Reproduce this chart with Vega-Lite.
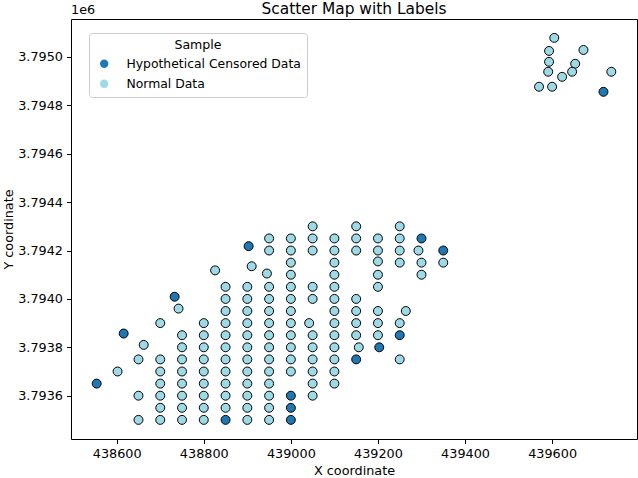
{
  "$schema": "https://vega.github.io/schema/vega-lite/v6.json",
  "width": 566,
  "height": 420,
  "autosize": {"type": "none"},
  "padding": {"left": 71, "top": 19, "right": 1, "bottom": 39},
  "background": "white",
  "config": {
    "font": "DejaVu Sans",
    "view": {"stroke": "black", "strokeWidth": 1},
    "axis": {
      "domain": false,
      "grid": false,
      "tickColor": "black",
      "tickSize": 4.5,
      "tickWidth": 1,
      "labelColor": "black",
      "labelFont": "DejaVu Sans",
      "labelFontSize": 12.8,
      "labelPadding": 4,
      "titleColor": "black",
      "titleFont": "DejaVu Sans",
      "titleFontSize": 12.8,
      "titleFontWeight": "normal"
    }
  },
  "title": {
    "text": "Scatter Map with Labels",
    "font": "DejaVu Sans",
    "fontSize": 15.4,
    "fontWeight": "normal",
    "color": "black",
    "anchor": "middle",
    "frame": "group",
    "offset": -13
  },
  "layer": [
    {
      "data": {
        "values": [
          {"x": 438650, "y": 3793500, "sample": "Normal Data"},
          {"x": 438650, "y": 3793600, "sample": "Normal Data"},
          {"x": 438650, "y": 3793750, "sample": "Normal Data"},
          {"x": 438700, "y": 3793500, "sample": "Normal Data"},
          {"x": 438700, "y": 3793550, "sample": "Normal Data"},
          {"x": 438700, "y": 3793600, "sample": "Normal Data"},
          {"x": 438700, "y": 3793650, "sample": "Normal Data"},
          {"x": 438700, "y": 3793700, "sample": "Normal Data"},
          {"x": 438700, "y": 3793750, "sample": "Normal Data"},
          {"x": 438700, "y": 3793900, "sample": "Normal Data"},
          {"x": 438750, "y": 3793500, "sample": "Normal Data"},
          {"x": 438750, "y": 3793550, "sample": "Normal Data"},
          {"x": 438750, "y": 3793600, "sample": "Normal Data"},
          {"x": 438750, "y": 3793650, "sample": "Normal Data"},
          {"x": 438750, "y": 3793700, "sample": "Normal Data"},
          {"x": 438750, "y": 3793750, "sample": "Normal Data"},
          {"x": 438750, "y": 3793800, "sample": "Normal Data"},
          {"x": 438750, "y": 3793850, "sample": "Normal Data"},
          {"x": 438800, "y": 3793500, "sample": "Normal Data"},
          {"x": 438800, "y": 3793550, "sample": "Normal Data"},
          {"x": 438800, "y": 3793600, "sample": "Normal Data"},
          {"x": 438800, "y": 3793650, "sample": "Normal Data"},
          {"x": 438800, "y": 3793700, "sample": "Normal Data"},
          {"x": 438800, "y": 3793750, "sample": "Normal Data"},
          {"x": 438800, "y": 3793800, "sample": "Normal Data"},
          {"x": 438800, "y": 3793850, "sample": "Normal Data"},
          {"x": 438800, "y": 3793900, "sample": "Normal Data"},
          {"x": 438850, "y": 3793500, "sample": "Hypothetical Censored Data"},
          {"x": 438850, "y": 3793550, "sample": "Normal Data"},
          {"x": 438850, "y": 3793600, "sample": "Normal Data"},
          {"x": 438850, "y": 3793650, "sample": "Normal Data"},
          {"x": 438850, "y": 3793700, "sample": "Normal Data"},
          {"x": 438850, "y": 3793750, "sample": "Normal Data"},
          {"x": 438850, "y": 3793800, "sample": "Normal Data"},
          {"x": 438850, "y": 3793850, "sample": "Normal Data"},
          {"x": 438850, "y": 3793900, "sample": "Normal Data"},
          {"x": 438850, "y": 3793950, "sample": "Normal Data"},
          {"x": 438850, "y": 3794000, "sample": "Normal Data"},
          {"x": 438850, "y": 3794050, "sample": "Normal Data"},
          {"x": 438900, "y": 3793500, "sample": "Normal Data"},
          {"x": 438900, "y": 3793550, "sample": "Normal Data"},
          {"x": 438900, "y": 3793600, "sample": "Normal Data"},
          {"x": 438900, "y": 3793650, "sample": "Normal Data"},
          {"x": 438900, "y": 3793700, "sample": "Normal Data"},
          {"x": 438900, "y": 3793750, "sample": "Normal Data"},
          {"x": 438900, "y": 3793800, "sample": "Normal Data"},
          {"x": 438900, "y": 3793850, "sample": "Normal Data"},
          {"x": 438900, "y": 3793900, "sample": "Normal Data"},
          {"x": 438900, "y": 3793950, "sample": "Normal Data"},
          {"x": 438900, "y": 3794000, "sample": "Normal Data"},
          {"x": 438900, "y": 3794050, "sample": "Normal Data"},
          {"x": 438950, "y": 3793500, "sample": "Normal Data"},
          {"x": 438950, "y": 3793550, "sample": "Normal Data"},
          {"x": 438950, "y": 3793600, "sample": "Normal Data"},
          {"x": 438950, "y": 3793650, "sample": "Normal Data"},
          {"x": 438950, "y": 3793700, "sample": "Normal Data"},
          {"x": 438950, "y": 3793750, "sample": "Normal Data"},
          {"x": 438950, "y": 3793800, "sample": "Normal Data"},
          {"x": 438950, "y": 3793850, "sample": "Normal Data"},
          {"x": 438950, "y": 3793900, "sample": "Normal Data"},
          {"x": 438950, "y": 3793950, "sample": "Normal Data"},
          {"x": 438950, "y": 3794000, "sample": "Normal Data"},
          {"x": 438950, "y": 3794050, "sample": "Normal Data"},
          {"x": 438945, "y": 3794105, "sample": "Normal Data"},
          {"x": 438950, "y": 3794200, "sample": "Normal Data"},
          {"x": 438950, "y": 3794250, "sample": "Normal Data"},
          {"x": 439000, "y": 3793500, "sample": "Hypothetical Censored Data"},
          {"x": 439000, "y": 3793550, "sample": "Hypothetical Censored Data"},
          {"x": 439000, "y": 3793600, "sample": "Hypothetical Censored Data"},
          {"x": 439000, "y": 3793700, "sample": "Normal Data"},
          {"x": 439000, "y": 3793750, "sample": "Normal Data"},
          {"x": 439000, "y": 3793800, "sample": "Normal Data"},
          {"x": 439000, "y": 3793850, "sample": "Normal Data"},
          {"x": 439000, "y": 3793900, "sample": "Normal Data"},
          {"x": 439000, "y": 3793950, "sample": "Normal Data"},
          {"x": 439000, "y": 3794000, "sample": "Normal Data"},
          {"x": 439000, "y": 3794050, "sample": "Normal Data"},
          {"x": 439000, "y": 3794100, "sample": "Normal Data"},
          {"x": 439000, "y": 3794150, "sample": "Normal Data"},
          {"x": 439000, "y": 3794200, "sample": "Normal Data"},
          {"x": 439000, "y": 3794250, "sample": "Normal Data"},
          {"x": 439050, "y": 3793600, "sample": "Normal Data"},
          {"x": 439050, "y": 3793650, "sample": "Normal Data"},
          {"x": 439050, "y": 3793700, "sample": "Normal Data"},
          {"x": 439050, "y": 3793750, "sample": "Normal Data"},
          {"x": 439050, "y": 3793800, "sample": "Normal Data"},
          {"x": 439050, "y": 3793850, "sample": "Normal Data"},
          {"x": 439042, "y": 3793900, "sample": "Normal Data"},
          {"x": 439050, "y": 3794000, "sample": "Normal Data"},
          {"x": 439050, "y": 3794050, "sample": "Normal Data"},
          {"x": 439050, "y": 3794200, "sample": "Normal Data"},
          {"x": 439050, "y": 3794250, "sample": "Normal Data"},
          {"x": 439050, "y": 3794300, "sample": "Normal Data"},
          {"x": 439100, "y": 3793650, "sample": "Normal Data"},
          {"x": 439100, "y": 3793700, "sample": "Normal Data"},
          {"x": 439100, "y": 3793750, "sample": "Normal Data"},
          {"x": 439100, "y": 3793800, "sample": "Normal Data"},
          {"x": 439100, "y": 3793850, "sample": "Normal Data"},
          {"x": 439100, "y": 3793900, "sample": "Normal Data"},
          {"x": 439100, "y": 3793950, "sample": "Normal Data"},
          {"x": 439100, "y": 3794000, "sample": "Normal Data"},
          {"x": 439100, "y": 3794050, "sample": "Normal Data"},
          {"x": 439100, "y": 3794100, "sample": "Normal Data"},
          {"x": 439100, "y": 3794150, "sample": "Normal Data"},
          {"x": 439100, "y": 3794200, "sample": "Normal Data"},
          {"x": 439100, "y": 3794250, "sample": "Normal Data"},
          {"x": 439150, "y": 3793750, "sample": "Hypothetical Censored Data"},
          {"x": 439156, "y": 3793800, "sample": "Normal Data"},
          {"x": 439150, "y": 3793850, "sample": "Normal Data"},
          {"x": 439150, "y": 3793900, "sample": "Normal Data"},
          {"x": 439150, "y": 3793950, "sample": "Normal Data"},
          {"x": 439150, "y": 3794000, "sample": "Normal Data"},
          {"x": 439150, "y": 3794200, "sample": "Normal Data"},
          {"x": 439150, "y": 3794250, "sample": "Normal Data"},
          {"x": 439150, "y": 3794300, "sample": "Normal Data"},
          {"x": 439203, "y": 3793800, "sample": "Hypothetical Censored Data"},
          {"x": 439200, "y": 3793850, "sample": "Normal Data"},
          {"x": 439200, "y": 3793900, "sample": "Normal Data"},
          {"x": 439200, "y": 3793950, "sample": "Normal Data"},
          {"x": 439200, "y": 3794050, "sample": "Normal Data"},
          {"x": 439200, "y": 3794100, "sample": "Normal Data"},
          {"x": 439200, "y": 3794155, "sample": "Normal Data"},
          {"x": 439200, "y": 3794200, "sample": "Normal Data"},
          {"x": 439200, "y": 3794250, "sample": "Normal Data"},
          {"x": 439250, "y": 3793750, "sample": "Normal Data"},
          {"x": 439250, "y": 3793850, "sample": "Hypothetical Censored Data"},
          {"x": 439250, "y": 3793900, "sample": "Normal Data"},
          {"x": 439264, "y": 3793950, "sample": "Normal Data"},
          {"x": 439250, "y": 3794150, "sample": "Normal Data"},
          {"x": 439250, "y": 3794200, "sample": "Normal Data"},
          {"x": 439250, "y": 3794250, "sample": "Normal Data"},
          {"x": 439250, "y": 3794300, "sample": "Normal Data"},
          {"x": 439300, "y": 3794100, "sample": "Normal Data"},
          {"x": 439300, "y": 3794150, "sample": "Normal Data"},
          {"x": 439293, "y": 3794200, "sample": "Normal Data"},
          {"x": 439300, "y": 3794250, "sample": "Hypothetical Censored Data"},
          {"x": 439350, "y": 3794150, "sample": "Normal Data"},
          {"x": 439350, "y": 3794200, "sample": "Hypothetical Censored Data"},
          {"x": 438554, "y": 3793650, "sample": "Hypothetical Censored Data"},
          {"x": 438602, "y": 3793700, "sample": "Normal Data"},
          {"x": 438616, "y": 3793857, "sample": "Hypothetical Censored Data"},
          {"x": 438662, "y": 3793810, "sample": "Normal Data"},
          {"x": 438733, "y": 3794009, "sample": "Hypothetical Censored Data"},
          {"x": 438742, "y": 3793960, "sample": "Normal Data"},
          {"x": 438826, "y": 3794118, "sample": "Normal Data"},
          {"x": 438903, "y": 3794218, "sample": "Hypothetical Censored Data"},
          {"x": 438910, "y": 3794135, "sample": "Normal Data"},
          {"x": 439605, "y": 3795079, "sample": "Normal Data"},
          {"x": 439593, "y": 3795025, "sample": "Normal Data"},
          {"x": 439672, "y": 3795029, "sample": "Normal Data"},
          {"x": 439593, "y": 3794980, "sample": "Normal Data"},
          {"x": 439653, "y": 3794972, "sample": "Normal Data"},
          {"x": 439591, "y": 3794939, "sample": "Normal Data"},
          {"x": 439646, "y": 3794939, "sample": "Normal Data"},
          {"x": 439736, "y": 3794939, "sample": "Normal Data"},
          {"x": 439623, "y": 3794918, "sample": "Normal Data"},
          {"x": 439570, "y": 3794877, "sample": "Normal Data"},
          {"x": 439600, "y": 3794877, "sample": "Normal Data"},
          {"x": 439718, "y": 3794856, "sample": "Hypothetical Censored Data"}
        ]
      },
      "mark": {"type": "circle", "size": 80, "opacity": 1, "stroke": "black", "strokeWidth": 1},
      "encoding": {
        "x": {
          "field": "x",
          "type": "quantitative",
          "scale": {"domain": [438495, 439795], "nice": false, "zero": false},
          "axis": {
            "title": "X coordinate",
            "values": [438600, 438800, 439000, 439200, 439400, 439600],
            "format": "d",
            "titlePadding": 4
          }
        },
        "y": {
          "field": "y",
          "type": "quantitative",
          "scale": {"domain": [3793421, 3795157], "nice": false, "zero": false},
          "axis": {
            "title": "Y coordinate",
            "values": [3793600, 3793800, 3794000, 3794200, 3794400, 3794600, 3794800, 3795000],
            "labelExpr": "format(datum.value / 1e6, '.4f')",
            "titlePadding": 2
          }
        },
        "color": {
          "field": "sample",
          "type": "nominal",
          "scale": {
            "domain": ["Hypothetical Censored Data", "Normal Data"],
            "range": ["#1f77b4", "#9edae5"]
          },
          "legend": {
            "title": "Sample",
            "orient": "none",
            "legendX": 18,
            "legendY": 14,
            "titleAnchor": "middle",
            "titleFont": "DejaVu Sans",
            "titleFontSize": 12.6,
            "titleFontWeight": "normal",
            "titleColor": "black",
            "titlePadding": 6,
            "labelFont": "DejaVu Sans",
            "labelFontSize": 12.4,
            "labelColor": "black",
            "labelLimit": 400,
            "labelOffset": 16,
            "symbolType": "circle",
            "symbolSize": 70,
            "symbolStrokeWidth": 0,
            "symbolOpacity": 1,
            "symbolOffset": 3,
            "rowPadding": 7,
            "padding": 6,
            "fillColor": "white",
            "strokeColor": "#cccccc",
            "cornerRadius": 3
          }
        }
      }
    },
    {
      "data": {"values": [{"label": "1e6"}]},
      "mark": {"type": "text", "align": "left", "baseline": "alphabetic", "fontSize": 12.8, "font": "DejaVu Sans", "color": "black"},
      "encoding": {
        "x": {"value": 0},
        "y": {"value": -5},
        "text": {"field": "label"}
      }
    }
  ]
}
